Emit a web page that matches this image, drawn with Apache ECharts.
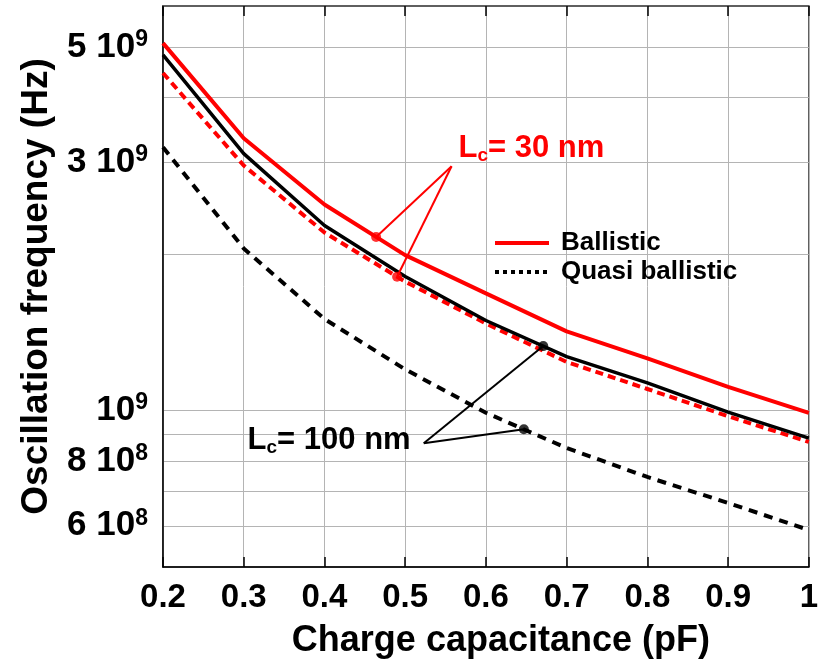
<!DOCTYPE html>
<html><head><meta charset="utf-8">
<script src="https://cdn.jsdelivr.net/npm/echarts@6/dist/echarts.min.js"></script>
<style>html,body{margin:0;padding:0;background:#fff}#c{width:821px;height:666px}</style>
</head><body><div id="c"></div>
<script>
// ---- data ----
const xValues = [0.2, 0.3, 0.4, 0.5, 0.6, 0.7, 0.8, 0.9, 1.0];
const ballistic30 = [5.09e9, 3.34e9, 2.49e9, 1.99e9, 1.68e9, 1.42e9, 1.26e9, 1.11e9, 9.9e8];
const quasi30 = [4.46e9, 2.96e9, 2.20e9, 1.77e9, 1.47e9, 1.24e9, 1.10e9, 9.75e8, 8.7e8];
const ballistic100 = [4.83e9, 3.12e9, 2.27e9, 1.81e9, 1.49e9, 1.27e9, 1.13e9, 9.93e8, 8.85e8];
const quasi100 = [3.21e9, 2.05e9, 1.50e9, 1.20e9, 9.9e8, 8.47e8, 7.45e8, 6.64e8, 5.89e8];
const yGridValues = [6e8, 7e8, 8e8, 9e8, 1e9, 2e9, 3e9, 4e9, 5e9];
const yLabelValues = [6e8, 8e8, 1e9, 3e9, 5e9];
const xTickLabels = ['0.2', '0.3', '0.4', '0.5', '0.6', '0.7', '0.8', '0.9', '1'];
const legendNames = ['Ballistic', 'Quasi ballistic'];
const dot30X = [0.464, 0.49];      // on ballistic30, quasi30
const dot100X = [0.671, 0.647];    // on ballistic100, quasi100
const apex30 = [0.5575, 2.95e9];
const text30 = [0.566, 3.19e9];
const apex100 = [0.523, 8.65e8];
const text100 = [0.3048, 8.77e8];

const FONT = '"Liberation Sans", Arial, Helvetica, sans-serif';
const RED = '#ff0000';

function pairs(ys) { return xValues.map((x, i) => [x, ys[i]]); }
function interp(ys, x) {
  for (let i = 0; i < xValues.length - 1; i++) {
    if (x >= xValues[i] && x <= xValues[i + 1]) {
      const t = (x - xValues[i]) / (xValues[i + 1] - xValues[i]);
      const a = Math.log10(ys[i]), b = Math.log10(ys[i + 1]);
      return Math.pow(10, a + t * (b - a));
    }
  }
  return ys[ys.length - 1];
}
function yFmt(v) {
  const e = Math.floor(Math.log10(v) + 1e-6);
  const m = Math.round(v / Math.pow(10, e));
  return m === 1 ? '{b|10}{s|' + e + '}' : '{b|' + m + ' 10}{s|' + e + '}';
}

const chart = echarts.init(document.getElementById('c'), null, {renderer: 'canvas'});
const dots = [
  [dot30X[0], interp(ballistic30, dot30X[0]), RED],
  [dot30X[1], interp(quasi30, dot30X[1]), RED],
  [dot100X[0], interp(ballistic100, dot100X[0]), '#000'],
  [dot100X[1], interp(quasi100, dot100X[1]), '#000']
];

chart.setOption({
  animation: false,
  backgroundColor: '#fff',
  grid: {left: 163, right: 9, top: 6, bottom: 99, show: true, borderColor: '#555', borderWidth: 1.5, backgroundColor: 'transparent'},
  legend: {
    show: true, orient: 'vertical', left: 493, top: 230, padding: 0, itemWidth: 54, itemHeight: 14, itemGap: 3,
    textStyle: {fontFamily: FONT, fontWeight: 'bold', fontSize: 26, color: '#000', padding: [0, 0, 0, 7]},
    data: [
      {name: legendNames[0], itemStyle: {opacity: 0, borderWidth: 0}, lineStyle: {color: RED, width: 4, type: 'solid'}},
      {name: legendNames[1], itemStyle: {opacity: 0, borderWidth: 0}, lineStyle: {color: '#000', width: 4, type: [4, 4]}}
    ]
  },
  xAxis: [{
    type: 'value', min: 0.2, max: 1.0, interval: 0.1,
    name: 'Charge capacitance (pF)', nameLocation: 'middle', nameGap: 56,
    nameTextStyle: {fontFamily: FONT, fontWeight: 'bold', fontSize: 36, color: '#000', padding: [0, 0, 0, 30]},
    axisLine: {show: true, lineStyle: {color: '#000', width: 1.5}},
    axisTick: {show: true, inside: true, length: 10, lineStyle: {color: '#000', width: 1.5}},
    axisLabel: {fontFamily: FONT, fontWeight: 'bold', fontSize: 33, color: '#000', margin: 14,
      formatter: v => xTickLabels[Math.round((v - 0.2) * 10)]},
    splitLine: {show: true, lineStyle: {color: '#b4b4b4', width: 1}}
  }, {
    type: 'value', position: 'top', min: 0.2, max: 1.0, interval: 0.1,
    axisLine: {show: true, lineStyle: {color: '#555', width: 1.5}},
    axisTick: {show: true, inside: true, length: 10, lineStyle: {color: '#000', width: 1.5}},
    axisLabel: {show: false}, splitLine: {show: false}
  }],
  yAxis: {
    type: 'log', logBase: 10, min: 5e8, max: 6e9,
    name: 'Oscillation frequency (Hz)', nameLocation: 'middle', nameGap: 108,
    nameTextStyle: {fontFamily: FONT, fontWeight: 'bold', fontSize: 37, color: '#000'},
    axisLine: {show: true, lineStyle: {color: '#000', width: 1.5}},
    axisTick: {show: false, customValues: yGridValues},
    axisLabel: {
      customValues: yLabelValues, margin: 15, formatter: yFmt,
      rich: {
        b: {fontFamily: FONT, fontWeight: 'bold', fontSize: 35, color: '#000', lineHeight: 38},
        s: {fontFamily: FONT, fontWeight: 'bold', fontSize: 23, color: '#000', verticalAlign: 'top', lineHeight: 38, padding: [0, 0, 20, 0]}
      }
    },
    splitLine: {show: true, lineStyle: {color: '#b4b4b4', width: 1}}
  },
  series: [
    {name: legendNames[0], type: 'line', data: pairs(ballistic30), symbol: 'none', lineStyle: {color: RED, width: 4}, itemStyle: {color: RED}, z: 5},
    {name: legendNames[1], type: 'line', data: pairs(quasi30), symbol: 'none', lineStyle: {color: RED, width: 4, type: [8, 5]}, itemStyle: {color: RED}, z: 3},
    {name: legendNames[0], type: 'line', data: pairs(ballistic100), symbol: 'none', lineStyle: {color: '#000', width: 3.5}, itemStyle: {color: '#000'}, z: 4},
    {name: legendNames[1], type: 'line', data: pairs(quasi100), symbol: 'none', lineStyle: {color: '#000', width: 4, type: [9, 7]}, itemStyle: {color: '#000'}, z: 3},
    {name: 'markers', type: 'scatter', symbolSize: 10, z: 6,
      data: dots.map(d => ({value: [d[0], d[1]], itemStyle: {color: d[2]}}))}
  ]
});

function px(p) { return chart.convertToPixel({xAxisIndex: 0, yAxisIndex: 0}, p); }
const a30 = px(apex30), a100 = px(apex100);
const d = dots.map(q => px([q[0], q[1]]));
const t30 = px(text30), t100 = px(text100);
const richLabel = (color) => ({
  a: {fontFamily: FONT, fontWeight: 'bold', fontSize: 31, fill: color, lineHeight: 34},
  c: {fontFamily: FONT, fontWeight: 'bold', fontSize: 19, fill: color, verticalAlign: 'bottom', lineHeight: 34, padding: [14, 0, 0, 0]}
});
chart.setOption({
  graphic: [
    {type: 'line', shape: {x1: a30[0], y1: a30[1], x2: d[0][0], y2: d[0][1]}, style: {stroke: RED, lineWidth: 2}, z: 10},
    {type: 'line', shape: {x1: a30[0], y1: a30[1], x2: d[1][0], y2: d[1][1]}, style: {stroke: RED, lineWidth: 2}, z: 10},
    {type: 'line', shape: {x1: a100[0], y1: a100[1], x2: d[2][0], y2: d[2][1]}, style: {stroke: '#000', lineWidth: 2}, z: 10},
    {type: 'line', shape: {x1: a100[0], y1: a100[1], x2: d[3][0], y2: d[3][1]}, style: {stroke: '#000', lineWidth: 2}, z: 10},
    {type: 'text', x: t30[0], y: t30[1], z: 10,
      style: {text: '{a|L}{c|c}{a|= 30 nm}', rich: richLabel(RED), fill: RED, verticalAlign: 'middle', align: 'left'}},
    {type: 'text', x: t100[0], y: t100[1], z: 10,
      style: {text: '{a|L}{c|c}{a|= 100 nm}', rich: richLabel('#000'), fill: '#000', verticalAlign: 'middle', align: 'left'}}
  ]
});
</script>
</body></html>
